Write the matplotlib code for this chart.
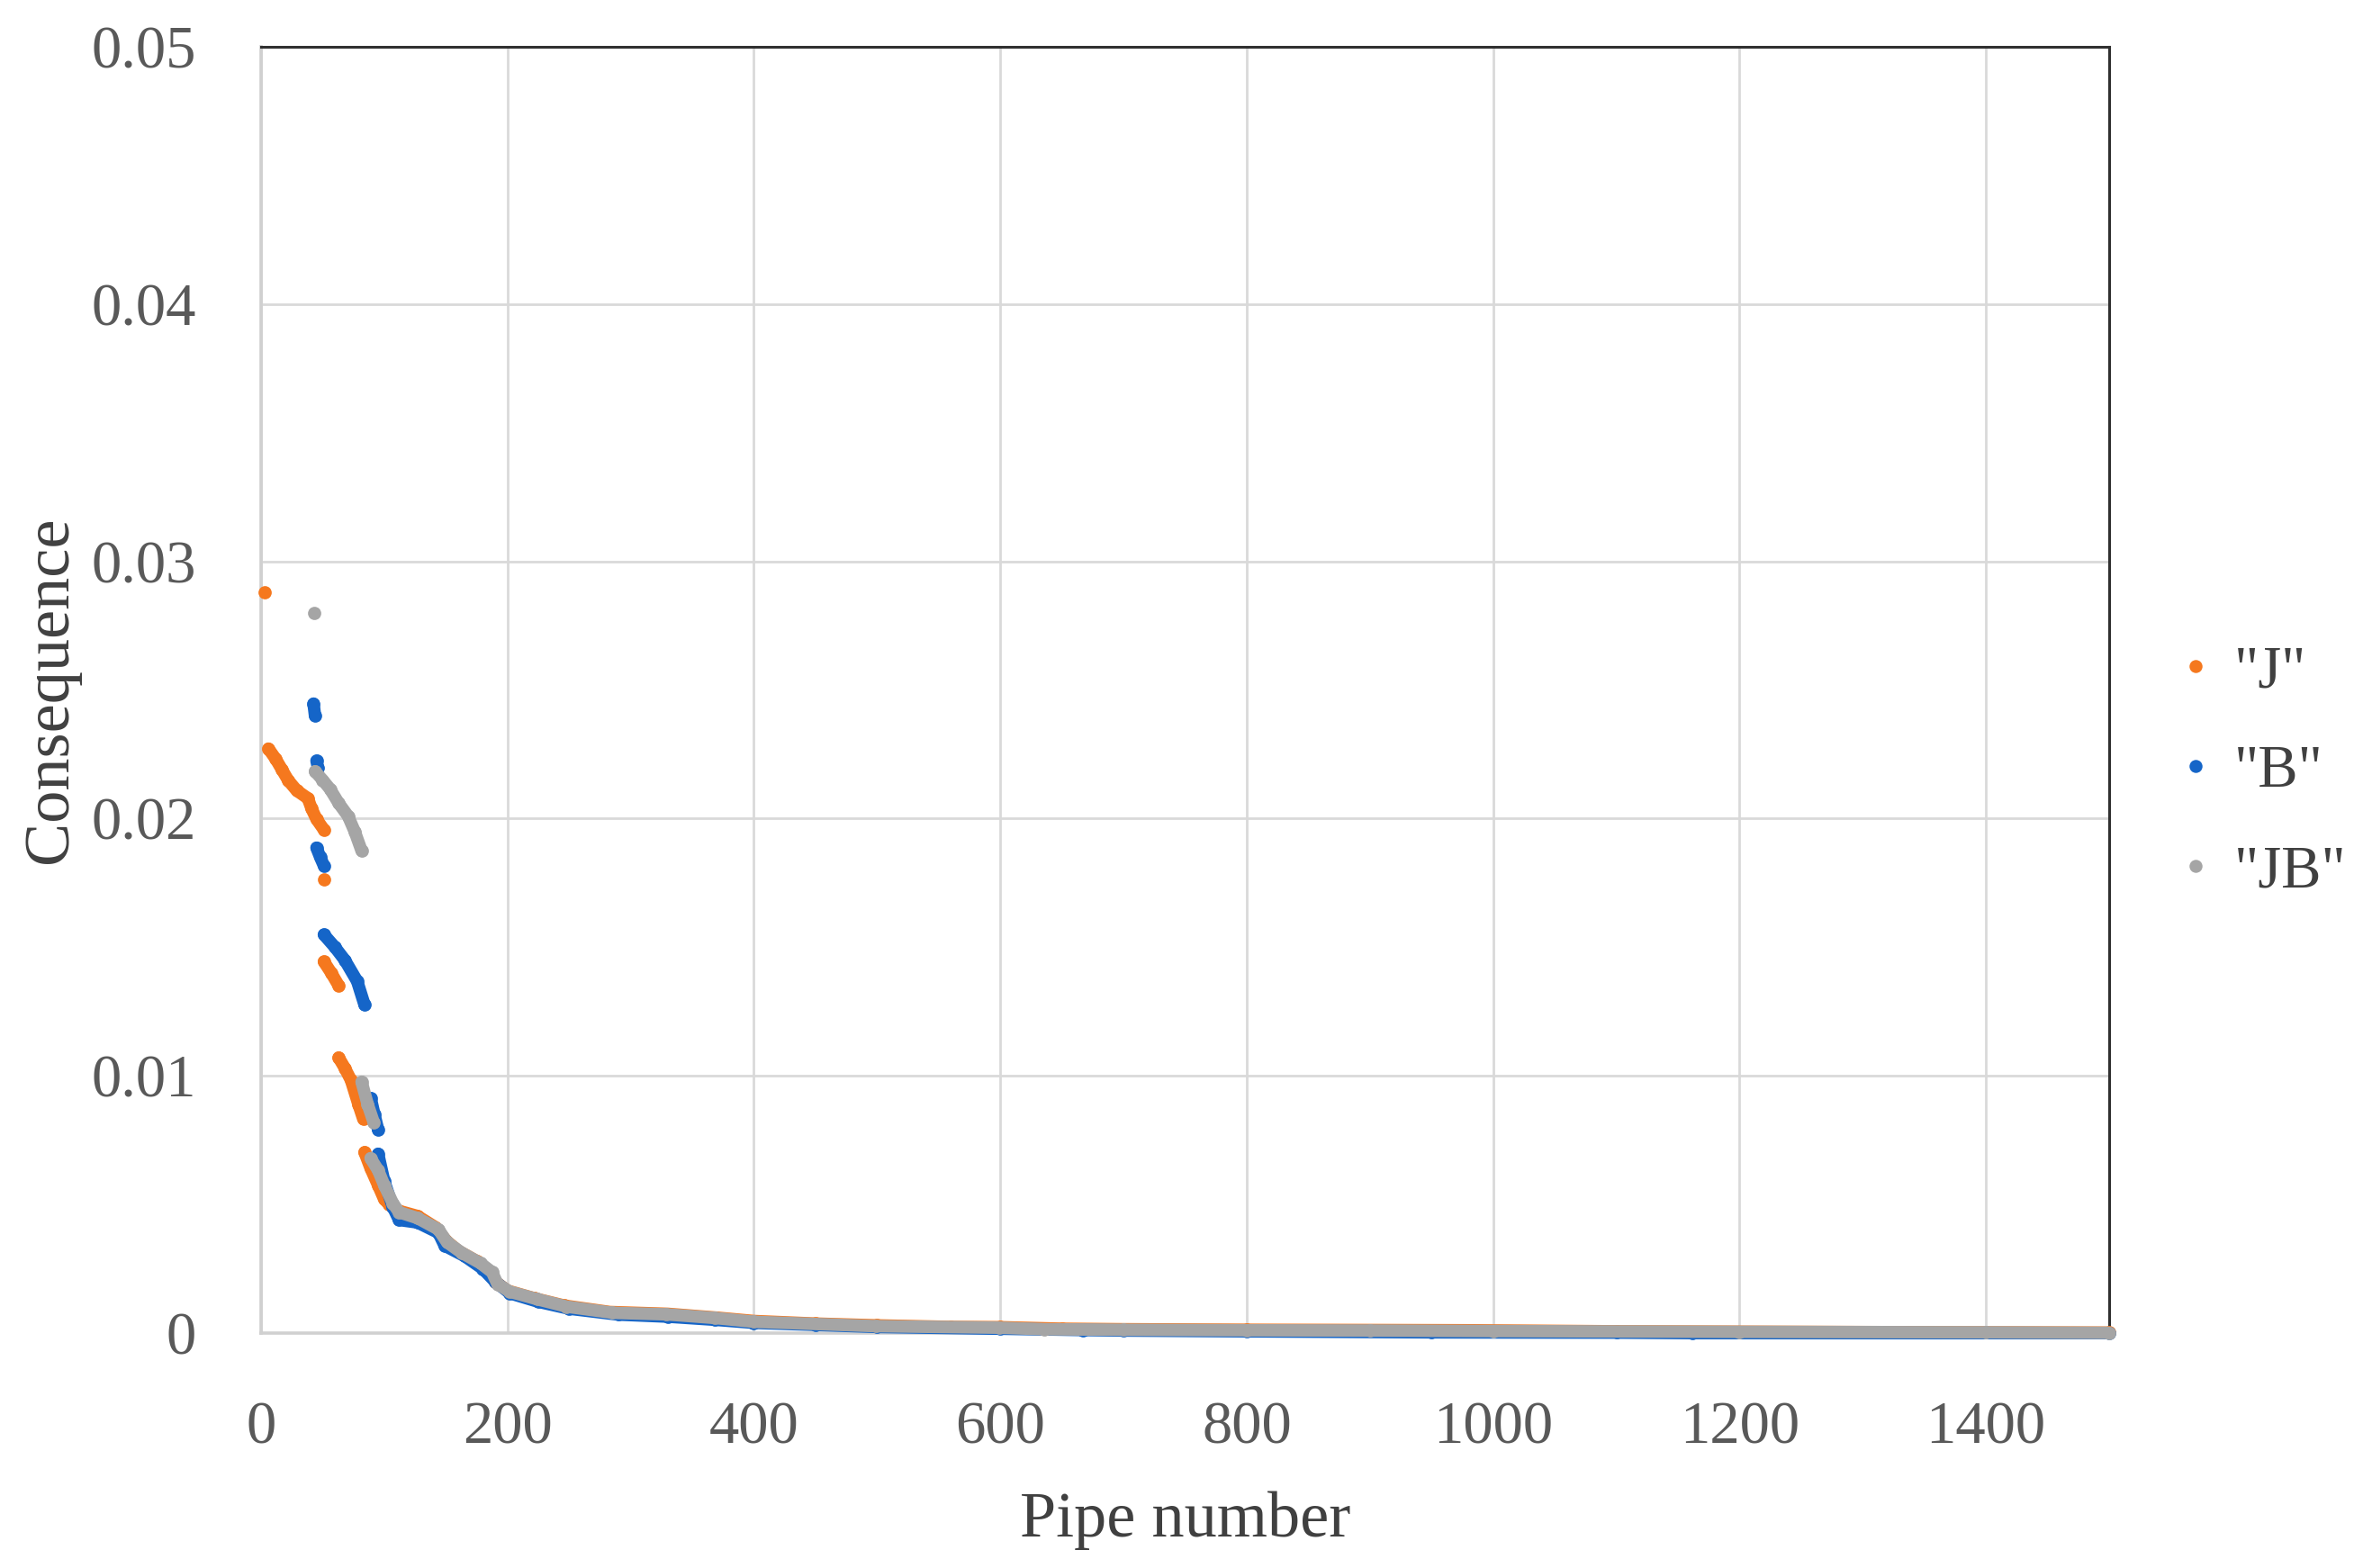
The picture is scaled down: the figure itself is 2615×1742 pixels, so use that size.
import numpy as np
import matplotlib
matplotlib.use("Agg")
import matplotlib.pyplot as plt
from matplotlib.lines import Line2D

nan = np.nan

# values (sorted consequence per pipe), nan splits the gaps
J_x = [3, nan, 6, 12, 17, 22, 29, 38, 41, 45, 51, nan, 51, nan,
       51, 57, 63, nan, 63, 68, 73, 79, 83, nan,
       84, 89, 95, 100, 104, 112, 127, 142, 150, 160, 175, 183, 190, 200,
       222, 246, 283, 330, 370, 400, 450, 500, 560, 600, 650, 700, 800,
       900, 980, 1100, 1300, 1500]
J_y = [0.0288, nan, 0.02272, 0.02231, 0.0219, 0.02149, 0.02109, 0.02079,
       0.02039, 0.01998, 0.01957, nan, 0.01765, nan,
       0.01444, 0.0140, 0.01351, nan, 0.01071, 0.0103, 0.00983, 0.0089, 0.00832, nan,
       0.00703, 0.0064, 0.00575, 0.0052, 0.0050, 0.00475, 0.00455, 0.0041,
       0.0036, 0.0032, 0.0028, 0.0025, 0.0020, 0.00165,
       0.00135, 0.00107, 0.00082, 0.00075, 0.0006, 0.00047, 0.00037, 0.0003,
       0.00024, 0.00023, 0.00017, 0.00015, 0.00013,
       0.00012, 0.00011, 0.00007, 0.00004, 0.00002]

B_x = [42.6, 43.8, nan, 45, 46.3, nan, 45, 48, 51, nan,
       51, 60, 68, 78, 84, nan, 89, 92, 95, nan,
       95, 100, 107, 112, 127, 144, 149, 165, 180, 190, 202, 225, 250, 290,
       330, 368, 400, 450, 500, 600, 667, 700, 800, 950, 1100, 1162, 1500]
B_y = [0.02447, 0.0240, nan, 0.02225, 0.02196, nan, 0.01887, 0.0185, 0.01817, nan,
       0.01549, 0.0150, 0.0145, 0.01368, 0.01276, nan, 0.00913, 0.0085, 0.00791, nan,
       0.00697, 0.0059, 0.0049, 0.0044, 0.0043, 0.0039, 0.0034, 0.0030,
       0.0025, 0.0020, 0.00155, 0.00122, 0.00095, 0.00072,
       0.00064, 0.00052, 0.0004, 0.00032, 0.00024, 0.00017, 0.00012, 0.0001,
       0.00007, 0.00003, 0.00002, 0.0, 0.0]

JB_x = [43, nan, 43.8, 50, 56, 63, 70.6, 76, 81.6, nan,
        81.6, 86.5, 91.4, nan,
        88.9, 95, 100, 107, 112, 127, 144, 151, 163, 178, 187.5, 192, 202,
        224, 248, 285, 329, 368, 400, 499, 599, 636, 700, 800, 900, 1000,
        1200, 1400, 1500]
JB_y = [0.0280, nan, 0.02184, 0.0215, 0.02115, 0.0206, 0.0201, 0.0195, 0.01875, nan,
        0.00977, 0.0089, 0.0082, nan,
        0.0068, 0.00633, 0.00575, 0.00505, 0.0047, 0.00447, 0.00403, 0.00353,
        0.00312, 0.00272, 0.00237, 0.0019, 0.00161,
        0.00132, 0.00103, 0.00079, 0.00073, 0.00059, 0.00044, 0.00027, 0.00021,
        0.00015, 0.00013, 0.00011, 0.0001, 0.00008,
        0.00005, 0.00003, 0.00001]

labels = ['"J"', '"B"', '"JB"']
colors = ['#F5781E', '#1565C8', '#A5A5A5']

plt.rcParams['font.family'] = ['Liberation Serif', 'DejaVu Serif']

fig = plt.figure(figsize=(13.075, 8.71), dpi=200)
ax = fig.add_axes([0.1109, 0.1498, 0.7851, 0.8203])

for xs, ys, c in [(J_x, J_y, colors[0]), (B_x, B_y, colors[1]), (JB_x, JB_y, colors[2])]:
    ax.plot(xs, ys, '-o', color=c, lw=5.0, ms=5.3, mew=0,
            solid_capstyle='round', clip_on=False, zorder=3)

ax.set_xlim(0, 1500)
ax.set_ylim(0, 0.05)
ax.set_xticks(range(0, 1501, 200))
ax.set_yticks([0, 0.01, 0.02, 0.03, 0.04, 0.05])
ax.set_yticklabels(['0', '0.01', '0.02', '0.03', '0.04', '0.05'])
ax.grid(True, color='#D9D9D9', lw=1.0)
ax.set_axisbelow(True)
ax.tick_params(length=0, labelsize=24, colors='#595959')
ax.tick_params(axis='x', pad=27)
ax.tick_params(axis='y', pad=26)

for s in ['left', 'bottom']:
    ax.spines[s].set_color('#D0D0D0')
    ax.spines[s].set_linewidth(1.3)
for s in ['top', 'right']:
    ax.spines[s].set_color('#303030')
    ax.spines[s].set_linewidth(1.1)

ax.set_xlabel('Pipe number', fontsize=26, color='#404040')
ax.set_ylabel('Consequence', fontsize=26, color='#404040')
ax.xaxis.set_label_coords(0.5, -0.123)
ax.yaxis.set_label_coords(-0.098, 0.5)

handles = [Line2D([], [], ls='none', marker='o', ms=5.2, mew=0, color=c) for c in colors]
fig.legend(handles, labels, loc='center left', bbox_to_anchor=(0.897, 0.5075),
           frameon=False, fontsize=24, labelspacing=0.75, handletextpad=0.15,
           handlelength=1.0, labelcolor='#404040')

fig.savefig('out.png', dpi=200)
